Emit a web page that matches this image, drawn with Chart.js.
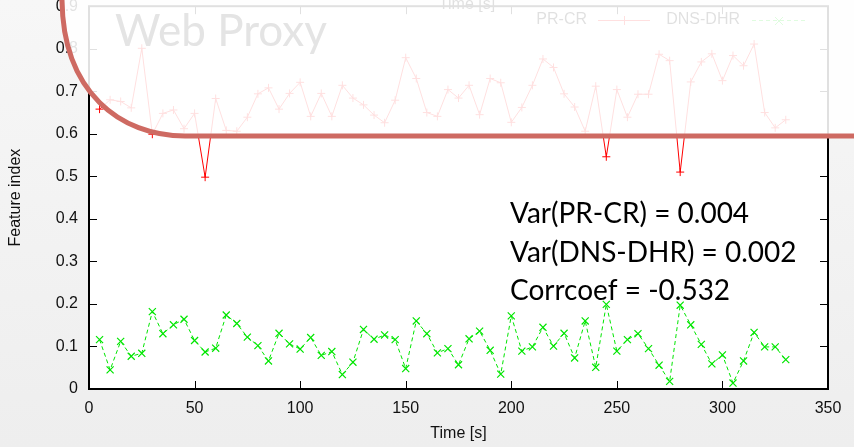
<!DOCTYPE html>
<html>
<head>
<meta charset="utf-8">
<script src="https://cdn.jsdelivr.net/npm/chart.js@4/dist/chart.umd.min.js"></script>
<style>
  html, body { margin: 0; padding: 0; background: #f3f3f3; }
  canvas { display: block; }
</style>
</head>
<body>
<canvas id="featureChart" width="854" height="447"></canvas>
<script>
// time axis (s)
const times = [5, 10, 15, 20, 25, 30, 35, 40, 45, 50, 55, 60, 65, 70, 75, 80, 85, 90, 95, 100,
  105, 110, 115, 120, 125, 130, 135, 140, 145, 150, 155, 160, 165, 170, 175, 180, 185, 190, 195, 200,
  205, 210, 215, 220, 225, 230, 235, 240, 245, 250, 255, 260, 265, 270, 275, 280, 285, 290, 295, 300,
  305, 310, 315, 320, 325, 330];

const prCr = [0.658, 0.680, 0.676, 0.661, 0.801, 0.599, 0.648, 0.656, 0.612, 0.648, 0.498, 0.683, 0.608, 0.606, 0.639, 0.694, 0.708, 0.658, 0.695, 0.721,
  0.641, 0.695, 0.641, 0.714, 0.684, 0.668, 0.644, 0.626, 0.679, 0.779, 0.730, 0.650, 0.641, 0.704, 0.684, 0.714, 0.645, 0.730, 0.720, 0.627,
  0.662, 0.714, 0.776, 0.756, 0.694, 0.663, 0.606, 0.712, 0.546, 0.704, 0.639, 0.693, 0.693, 0.787, 0.772, 0.510, 0.722, 0.769, 0.788, 0.725,
  0.784, 0.760, 0.811, 0.650, 0.614, 0.633];

const dnsDhr = [0.116, 0.045, 0.112, 0.077, 0.084, 0.182, 0.130, 0.151, 0.164, 0.114, 0.087, 0.096, 0.174, 0.154, 0.122, 0.102, 0.066, 0.131, 0.106, 0.094,
  0.121, 0.079, 0.088, 0.034, 0.063, 0.140, 0.117, 0.127, 0.116, 0.048, 0.160, 0.130, 0.085, 0.095, 0.057, 0.118, 0.136, 0.091, 0.035, 0.172,
  0.089, 0.099, 0.145, 0.101, 0.131, 0.073, 0.160, 0.051, 0.199, 0.089, 0.116, 0.130, 0.095, 0.056, 0.018, 0.197, 0.151, 0.105, 0.059, 0.080,
  0.014, 0.066, 0.133, 0.099, 0.099, 0.069];

const xTickValues = [0, 50, 100, 150, 200, 250, 300, 350];
const yTickValues = [0, 0.1, 0.2, 0.3, 0.4, 0.5, 0.6, 0.7, 0.8, 0.9];
const yTickLabels = ['0', '0.1', '0.2', '0.3', '0.4', '0.5', '0.6', '0.7', '0.8', '0.9'];
const seriesNames = ['PR-CR', 'DNS-DHR'];
const statLines = ['Var(PR-CR) = 0.004', 'Var(DNS-DHR) = 0.002', 'Corrcoef = -0.532'];

const RED = '#ff0000';
const GREEN = '#00e600';
const tickFont = { family: 'Liberation Sans, Arial, sans-serif', size: 16 };

function line(ctx, x1, y1, x2, y2) {
  ctx.beginPath();
  ctx.moveTo(x1, y1);
  ctx.lineTo(x2, y2);
  ctx.stroke();
}

// page background + white plot area
const background = {
  id: 'background',
  beforeDraw(chart) {
    const { ctx, chartArea: a } = chart;
    const g = ctx.createLinearGradient(0, 0, 0, chart.height);
    g.addColorStop(0, '#f7f7f7');
    g.addColorStop(1, '#eeeeee');
    ctx.save();
    ctx.fillStyle = g;
    ctx.fillRect(0, 0, chart.width, chart.height);
    ctx.fillStyle = '#ffffff';
    ctx.fillRect(a.left, a.top, a.right - a.left, a.bottom - a.top);
    ctx.restore();
  }
};

// gnuplot style frame, inward ticks, key and the upper label
const frame = {
  id: 'frame',
  afterDatasetsDraw(chart) {
    const { ctx, chartArea: a } = chart;
    const xs = chart.scales.x, ys = chart.scales.y;
    ctx.save();
    ctx.strokeStyle = '#000';
    ctx.lineWidth = 1;
    xs.ticks.forEach(t => {
      const x = Math.round(xs.getPixelForValue(t.value)) + 0.5;
      line(ctx, x, a.bottom, x, a.bottom - 8);
      line(ctx, x, a.top, x, a.top + 8);
    });
    ys.ticks.forEach(t => {
      const y = Math.round(ys.getPixelForValue(t.value)) + 0.5;
      line(ctx, a.left, y, a.left + 8, y);
      line(ctx, a.right, y, a.right - 8, y);
    });
    ctx.lineWidth = 2;
    ctx.strokeRect(a.left, a.top, a.right - a.left, a.bottom - a.top);

    // key
    ctx.font = '16px Liberation Sans, Arial, sans-serif';
    ctx.fillStyle = '#000';
    ctx.textAlign = 'right';
    ctx.textBaseline = 'middle';
    ctx.fillText(seriesNames[0], 587, 20);
    ctx.fillText(seriesNames[1], 740, 20);
    ctx.lineWidth = 1;
    ctx.strokeStyle = RED;
    line(ctx, 598, 20.5, 650, 20.5);
    line(ctx, 620, 20.5, 628, 20.5);
    line(ctx, 624.5, 16, 624.5, 25);
    ctx.strokeStyle = GREEN;
    ctx.setLineDash([4, 3]);
    line(ctx, 752, 20.5, 806, 20.5);
    ctx.setLineDash([]);
    line(ctx, 775, 17, 783, 25);
    line(ctx, 783, 17, 775, 25);

    // upper axis title
    ctx.fillStyle = '#000';
    ctx.textAlign = 'center';
    ctx.font = '16px Liberation Sans, Arial, sans-serif';
    ctx.fillText('Time [s]', 467, 5);
    ctx.restore();
  }
};

// faded callout with the red border, plus the slide texts
const callout = {
  id: 'callout',
  afterDraw(chart) {
    const { ctx } = chart;
    const edge = () => {
      ctx.moveTo(62, -10);
      ctx.lineTo(62, 0);
      ctx.bezierCurveTo(63, 92, 120, 136, 185, 136);
      ctx.lineTo(870, 136);
    };
    ctx.save();
    ctx.beginPath();
    edge();
    ctx.lineTo(870, -10);
    ctx.closePath();
    ctx.fillStyle = 'rgba(255,255,255,0.88)';
    ctx.fill();

    ctx.font = '44px Lato, sans-serif';
    ctx.fillStyle = '#e4e4e4';
    ctx.textAlign = 'left';
    ctx.textBaseline = 'alphabetic';
    ctx.fillText('Web Proxy', 115, 46);

    ctx.beginPath();
    edge();
    ctx.strokeStyle = 'rgb(206,106,98)';
    ctx.lineWidth = 5;
    ctx.stroke();

    ctx.font = '28px Lato, sans-serif';
    ctx.fillStyle = '#000';
    statLines.forEach((s, i) => ctx.fillText(s, 510, 223 + i * 38.5));
    ctx.restore();
  }
};

new Chart(document.getElementById('featureChart'), {
  type: 'line',
  data: {
    datasets: [{
      label: seriesNames[0],
      data: times.map((t, i) => ({ x: t, y: prCr[i] })),
      borderColor: RED,
      backgroundColor: RED,
      borderWidth: 1,
      pointStyle: 'cross',
      pointRadius: 4,
      pointBorderWidth: 1,
      tension: 0
    }, {
      label: seriesNames[1],
      data: times.map((t, i) => ({ x: t, y: dnsDhr[i] })),
      borderColor: GREEN,
      backgroundColor: GREEN,
      borderWidth: 1,
      borderDash: [4, 3],
      pointStyle: 'crossRot',
      pointRadius: 5,
      pointBorderWidth: 1.2,
      tension: 0
    }]
  },
  options: {
    responsive: false,
    animation: false,
    devicePixelRatio: 1,
    layout: { padding: { top: 1, right: 26, bottom: 0, left: 0 } },
    plugins: { legend: { display: false }, tooltip: { enabled: false } },
    scales: {
      x: {
        type: 'linear',
        min: 0,
        max: 350,
        grid: { display: false, drawTicks: false },
        border: { display: false },
        afterBuildTicks: s => { s.ticks = xTickValues.map(v => ({ value: v })); },
        ticks: { font: tickFont, color: '#111', padding: 10, maxRotation: 0 },
        title: { display: true, text: 'Time [s]', font: { family: 'Liberation Sans, Arial, sans-serif', size: 16 }, color: '#111', padding: { top: 0, bottom: 4 } },
        afterFit: s => { s.height = 58; s.paddingLeft = 0; s.paddingRight = 0; }
      },
      y: {
        min: 0,
        max: 0.9,
        grid: { display: false, drawTicks: false },
        border: { display: false },
        afterBuildTicks: s => { s.ticks = yTickValues.map(v => ({ value: v })); },
        ticks: { font: tickFont, color: '#111', padding: 11, callback: (v, i) => yTickLabels[i] },
        title: { display: true, text: 'Feature index', font: { family: 'Liberation Sans, Arial, sans-serif', size: 16 }, color: '#111', padding: { top: 6, bottom: 0 } },
        afterFit: s => { s.width = 89; s.paddingTop = 0; s.paddingBottom = 0; }
      }
    }
  },
  plugins: [background, frame, callout]
});
</script>
</body>
</html>
